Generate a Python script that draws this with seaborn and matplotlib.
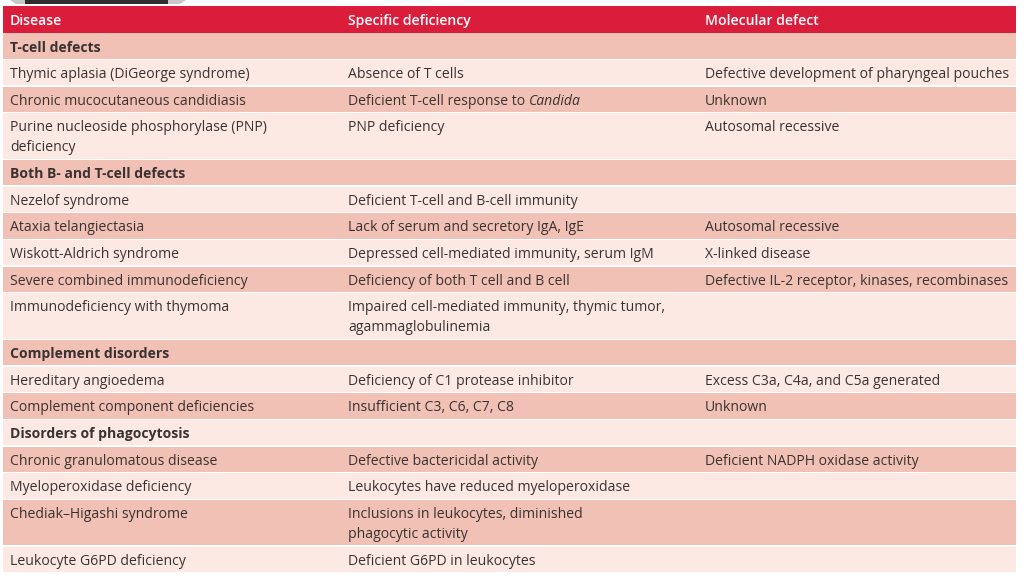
import matplotlib
matplotlib.use("Agg")
import matplotlib.pyplot as plt
import seaborn as sns
from matplotlib.patches import Polygon

# Conteúdo da tabela
cabecalho = ["Disease", "Specific deficiency", "Molecular defect"]

doencas = [
    "T-cell defects",
    "Thymic aplasia (DiGeorge syndrome)",
    "Chronic mucocutaneous candidiasis",
    "Purine nucleoside phosphorylase (PNP)\ndeficiency",
    "Both B- and T-cell defects",
    "Nezelof syndrome",
    "Ataxia telangiectasia",
    "Wiskott-Aldrich syndrome",
    "Severe combined immunodeficiency",
    "Immunodeficiency with thymoma",
    "Complement disorders",
    "Hereditary angioedema",
    "Complement component deficiencies",
    "Disorders of phagocytosis",
    "Chronic granulomatous disease",
    "Myeloperoxidase deficiency",
    "Chediak–Higashi syndrome",
    "Leukocyte G6PD deficiency",
]

deficiencias = [
    "",
    "Absence of T cells",
    "Deficient T-cell response to |Candida",
    "PNP deficiency",
    "",
    "Deficient T-cell and B-cell immunity",
    "Lack of serum and secretory IgA, IgE",
    "Depressed cell-mediated immunity, serum IgM",
    "Deficiency of both T cell and B cell",
    "Impaired cell-mediated immunity, thymic tumor,\nagammaglobulinemia",
    "",
    "Deficiency of C1 protease inhibitor",
    "Insufficient C3, C6, C7, C8",
    "",
    "Defective bactericidal activity",
    "Leukocytes have reduced myeloperoxidase",
    "Inclusions in leukocytes, diminished\nphagocytic activity",
    "Deficient G6PD in leukocytes",
]

defeitos = [
    "",
    "Defective development of pharyngeal pouches",
    "Unknown",
    "Autosomal recessive",
    "",
    "",
    "Autosomal recessive",
    "X-linked disease",
    "Defective IL-2 receptor, kinases, recombinases",
    "",
    "",
    "Excess C3a, C4a, and C5a generated",
    "Unknown",
    "",
    "Deficient NADPH oxidase activity",
    "",
    "",
    "",
]

secoes = [0, 4, 10, 13]

# Estilo
sns.set_theme(style="white")
plt.rcParams["font.family"] = ["Open Sans", "DejaVu Sans"]

cor_cabecalho = "#db1d3c"
cor_escura = "#f1c1b5"
cor_clara = "#fce9e4"
cor_texto = "#3a3232"
tam = 10.1

fig = plt.figure(figsize=(10.24, 5.81), dpi=100)
ax = fig.add_axes([0, 0, 1, 1])
ax.set_xlim(0, 1024)
ax.set_ylim(581, 0)
ax.axis("off")

esq, dir_ = 3, 1016
colunas = [10, 348, 705]
altura_linha = 26.67
passo_texto = 20
desloc = 15.0
topo = 6.0

# aba escura no topo (recorte da imagem original)
ax.add_patch(Polygon([[10, 0], [186, 0], [180, 4], [16, 4]], color="#c8c8c8", lw=0))
ax.add_patch(Polygon([[25, 0], [168, 0], [168, 3.5], [25, 3.5]], color="#2e2e2e", lw=0))

# cabeçalho
ax.barh(topo + altura_linha / 2, dir_ - esq, height=altura_linha, left=esq,
        color=cor_cabecalho, lw=0)
for x, t in zip(colunas, cabecalho):
    ax.text(x, topo + desloc, t, color="white", fontsize=tam, fontweight="semibold",
            va="center", ha="left")

renderer = fig.canvas.get_renderer()


def escrever(x, y, texto, peso):
    partes = texto.split("|")
    t = ax.text(x, y, partes[0], color=cor_texto, fontsize=tam, fontweight=peso,
                va="center", ha="left")
    if len(partes) > 1:
        bb = t.get_window_extent(renderer=renderer)
        x2 = ax.transData.inverted().transform((bb.x1, 0))[0]
        ax.text(x2, y, partes[1], color=cor_texto, fontsize=tam, fontweight=peso,
                style="italic", va="center", ha="left")


y = topo + altura_linha
for i in range(len(doencas)):
    textos = [doencas[i], deficiencias[i], defeitos[i]]
    n = max(t.count("\n") + 1 for t in textos)
    h = altura_linha if n == 1 else altura_linha * 1.75
    cor = cor_escura if i % 2 == 0 else cor_clara
    ax.barh(y + h / 2, dir_ - esq, height=h - 1.5, left=esq, color=cor, lw=0)
    peso = "bold" if i in secoes else "normal"
    for x, t in zip(colunas, textos):
        for k, linha in enumerate(t.split("\n")):
            if linha:
                escrever(x, y + desloc + k * passo_texto, linha, peso)
    y += h

fig.savefig("out.png", dpi=100, facecolor="white")
